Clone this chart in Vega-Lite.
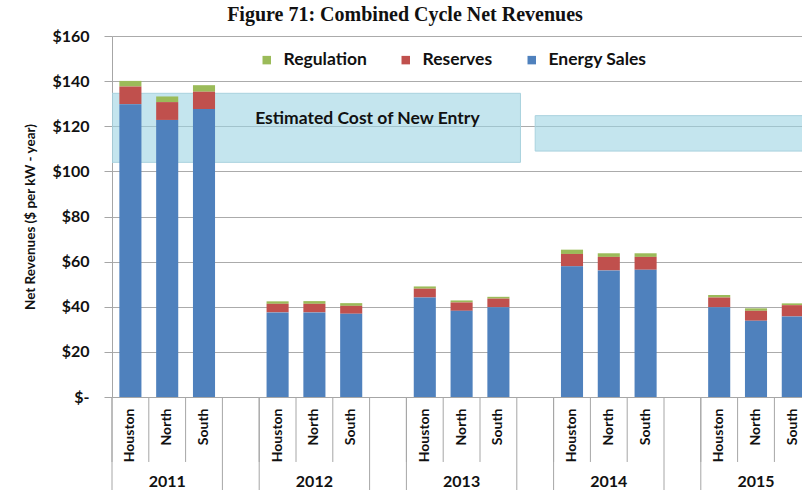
{
  "$schema": "https://vega.github.io/schema/vega-lite/v6.json",
  "width": 690,
  "height": 361,
  "autosize": "none",
  "padding": {"left": 112, "top": 36, "right": 0, "bottom": 93},
  "background": "white",
  "title": {
    "text": "Figure 71:  Combined Cycle Net Revenues",
    "font": "Liberation Serif",
    "fontSize": 20,
    "fontWeight": "bold",
    "color": "#111111",
    "anchor": "middle",
    "dx": -52,
    "offset": 3
  },
  "config": {"view": {"stroke": null}, "font": "Lato"},
  "datasets": {
    "revenues": [
      {"year": "2011", "region": "Houston", "key": "2011|Houston", "Energy Sales": 129.8, "Reserves": 7.8, "Regulation": 2.5},
      {"year": "2011", "region": "North", "key": "2011|North", "Energy Sales": 122.8, "Reserves": 7.9, "Regulation": 2.5},
      {"year": "2011", "region": "South", "key": "2011|South", "Energy Sales": 127.6, "Reserves": 7.7, "Regulation": 2.9},
      {"year": "2012", "region": "Houston", "key": "2012|Houston", "Energy Sales": 37.5, "Reserves": 3.8, "Regulation": 1.1},
      {"year": "2012", "region": "North", "key": "2012|North", "Energy Sales": 37.5, "Reserves": 3.8, "Regulation": 1.2},
      {"year": "2012", "region": "South", "key": "2012|South", "Energy Sales": 36.9, "Reserves": 3.5, "Regulation": 1.2},
      {"year": "2013", "region": "Houston", "key": "2013|Houston", "Energy Sales": 44.1, "Reserves": 3.9, "Regulation": 1.0},
      {"year": "2013", "region": "North", "key": "2013|North", "Energy Sales": 38.2, "Reserves": 3.7, "Regulation": 0.9},
      {"year": "2013", "region": "South", "key": "2013|South", "Energy Sales": 39.8, "Reserves": 3.8, "Regulation": 0.8},
      {"year": "2014", "region": "Houston", "key": "2014|Houston", "Energy Sales": 57.9, "Reserves": 5.5, "Regulation": 1.9},
      {"year": "2014", "region": "North", "key": "2014|North", "Energy Sales": 56.1, "Reserves": 6.0, "Regulation": 1.6},
      {"year": "2014", "region": "South", "key": "2014|South", "Energy Sales": 56.4, "Reserves": 5.7, "Regulation": 1.6},
      {"year": "2015", "region": "Houston", "key": "2015|Houston", "Energy Sales": 39.8, "Reserves": 4.3, "Regulation": 1.1},
      {"year": "2015", "region": "North", "key": "2015|North", "Energy Sales": 33.8, "Reserves": 4.4, "Regulation": 1.1},
      {"year": "2015", "region": "South", "key": "2015|South", "Energy Sales": 35.7, "Reserves": 5.0, "Regulation": 0.8}
    ],
    "cone1": [{"period": "2011-2013", "label": "Estimated Cost of New Entry", "from": "2011|Houston", "to": "2013|gap", "lo": 104.0, "hi": 134.6}],
    "cone2": [{"period": "2014-2015", "from": "2013|gap", "to": "2015|gap", "lo": 109.0, "hi": 124.7}]
  },
  "layer": [
    {
      "data": {"name": "cone1"},
      "mark": {"type": "rect", "color": "#9DD3E2", "fillOpacity": 0.6, "stroke": "#A9D2DE", "strokeWidth": 1, "clip": true},
      "encoding": {
        "x": {"field": "to", "type": "nominal", "bandPosition": 0.1, "title": null},
        "x2": {"field": "from", "bandPosition": 0},
        "y": {"field": "lo", "type": "quantitative", "title": "Net Revenues ($ per kW - year)"},
        "y2": {"field": "hi"}
      }
    },
    {
      "data": {"name": "cone2"},
      "mark": {"type": "rect", "color": "#9DD3E2", "fillOpacity": 0.6, "stroke": "#A9D2DE", "strokeWidth": 1, "clip": true},
      "encoding": {
        "x": {"field": "from", "type": "nominal", "bandPosition": 0.5, "title": null},
        "x2": {"field": "to"},
        "y": {"field": "lo", "type": "quantitative", "title": "Net Revenues ($ per kW - year)"},
        "y2": {"field": "hi"}
      }
    },
    {
      "data": {"name": "revenues"},
      "transform": [{"fold": ["Regulation", "Reserves", "Energy Sales"], "as": ["component", "amount"]}],
      "mark": {"type": "bar", "width": {"band": 0.6}, "clip": true},
      "encoding": {
        "x": {
          "field": "key", "type": "nominal", "title": null,
          "scale": {
            "domain": ["2011|Houston", "2011|North", "2011|South", "2011|gap", "2012|Houston", "2012|North", "2012|South", "2012|gap", "2013|Houston", "2013|North", "2013|South", "2013|gap", "2014|Houston", "2014|North", "2014|South", "2014|gap", "2015|Houston", "2015|North", "2015|South", "2015|gap"],
            "range": [0, 736],
            "paddingInner": 0,
            "paddingOuter": 0
          },
          "axis": {
            "orient": "bottom",
            "title": null,
            "ticks": false,
            "domainColor": "#A6A6A6",
            "grid": false,
            "labelExpr": "indexof(datum.value, 'gap') >= 0 ? '' : split(datum.value, '|')[1]",
            "labelAngle": -90,
            "labelAlign": "right",
            "labelBaseline": "middle",
            "labelPadding": 11,
            "labelFont": "Lato",
            "labelFontWeight": "bold",
            "labelFontSize": 14,
            "labelColor": "#111111"
          }
        },
        "y": {
          "field": "amount", "type": "quantitative", "stack": "zero",
          "title": "Net Revenues ($ per kW - year)",
          "scale": {"domain": [0, 160], "nice": false},
          "axis": {
            "titleFont": "Lato",
            "titleFontSize": 13.5,
            "titleFontWeight": "bold",
            "titleColor": "#111111",
            "titlePadding": 14,
            "values": [0, 20, 40, 60, 80, 100, 120, 140, 160],
            "labelExpr": "datum.value == 0 ? '$-' : '$' + datum.value",
            "labelFont": "Lato",
            "labelFontWeight": "bold",
            "labelFontSize": 16,
            "labelColor": "#111111",
            "labelPadding": 15,
            "tickSize": 8,
            "tickColor": "#A6A6A6",
            "domainColor": "#A6A6A6",
            "gridColor": "#ABABAB"
          }
        },
        "order": {"field": "amount", "type": "quantitative", "sort": "descending"},
        "color": {
          "field": "component", "type": "nominal",
          "scale": {"domain": ["Regulation", "Reserves", "Energy Sales"], "range": ["#9BBB59", "#C0504D", "#4F81BD"]},
          "legend": {
            "orient": "none",
            "legendX": 146,
            "legendY": 15,
            "direction": "horizontal",
            "title": null,
            "symbolType": "square",
            "symbolSize": 72,
            "symbolStrokeWidth": 0,
            "labelFont": "Lato",
            "labelFontWeight": "bold",
            "labelFontSize": 17.5,
            "labelColor": "#111111",
            "labelOffset": 8,
            "columnPadding": 30
          }
        }
      }
    },
    {
      "data": {"name": "revenues"},
      "mark": {"type": "rule", "color": "#A6A6A6", "strokeWidth": 1},
      "encoding": {
        "x": {"field": "key", "type": "nominal", "bandPosition": 0, "title": null},
        "y": {"datum": 0, "type": "quantitative", "title": "Net Revenues ($ per kW - year)"},
        "y2": {"datum": -28.8}
      }
    },
    {
      "data": {"name": "revenues"},
      "transform": [{"filter": "datum.region == 'Houston'"}],
      "mark": {"type": "rule", "color": "#A6A6A6", "strokeWidth": 1},
      "encoding": {
        "x": {"field": "key", "type": "nominal", "bandPosition": 0, "title": null},
        "y": {"datum": 0, "type": "quantitative", "title": "Net Revenues ($ per kW - year)"},
        "y2": {"datum": -42}
      }
    },
    {
      "data": {"name": "revenues"},
      "transform": [{"filter": "datum.region == 'South'"}],
      "mark": {"type": "rule", "color": "#A6A6A6", "strokeWidth": 1},
      "encoding": {
        "x": {"field": "key", "type": "nominal", "bandPosition": 1, "title": null},
        "y": {"datum": 0, "type": "quantitative", "title": "Net Revenues ($ per kW - year)"},
        "y2": {"datum": -42}
      }
    },
    {
      "data": {"name": "revenues"},
      "transform": [{"filter": "datum.region == 'North'"}],
      "mark": {"type": "text", "font": "Lato", "fontWeight": "bold", "fontSize": 16, "align": "center", "baseline": "middle", "color": "#111111"},
      "encoding": {
        "text": {"field": "year"},
        "x": {"field": "key", "type": "nominal", "title": null},
        "y": {"datum": -37.5, "type": "quantitative", "title": "Net Revenues ($ per kW - year)"}
      }
    },
    {
      "data": {"name": "cone1"},
      "mark": {"type": "text", "font": "Lato", "fontWeight": "bold", "fontSize": 17.5, "align": "center", "baseline": "middle", "color": "#111111", "dy": 26},
      "encoding": {
        "text": {"field": "label"},
        "x": {"datum": "2012|South", "type": "nominal", "bandPosition": 0.94, "title": null},
        "y": {"field": "hi", "type": "quantitative", "title": "Net Revenues ($ per kW - year)"}
      }
    }
  ]
}
